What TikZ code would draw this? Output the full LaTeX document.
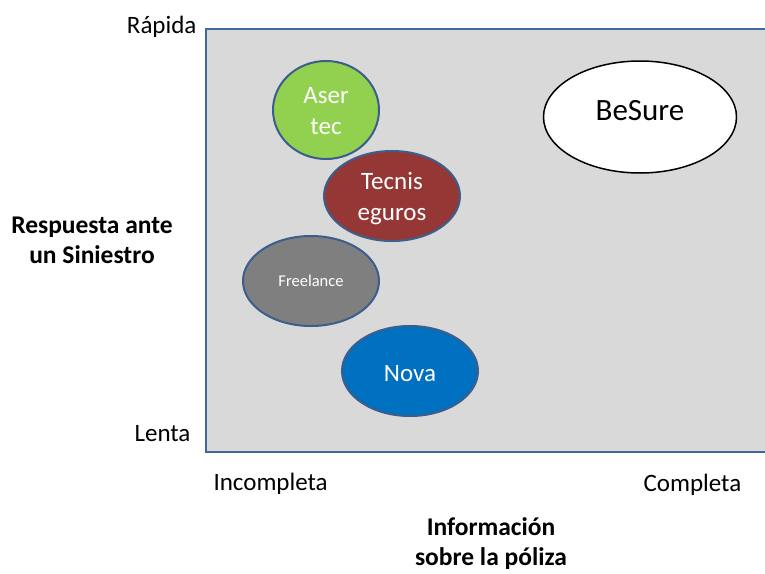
\documentclass[tikz,border=0pt]{standalone}
\usepackage{fontspec}
\setmainfont{Carlito}
\usetikzlibrary{shapes.geometric}
\definecolor{bgc}{HTML}{D9D9D9}
\definecolor{edgec}{HTML}{41689C}
\definecolor{ringc}{HTML}{3B5E8C}
\definecolor{greenc}{HTML}{92D050}
\definecolor{redc}{HTML}{953735}
\definecolor{grayc}{HTML}{7F7F7F}
\definecolor{bluec}{HTML}{0070C0}
\newcommand{\twolines}[2]{\raisebox{-3pt}[\height][\depth]{\begin{tabular}{@{}c@{}}#1\\#2\end{tabular}}}
\tikzset{
  firm/.style={ellipse, draw=ringc, line width=2pt, inner sep=0pt, text=white, align=center, font=\fontsize{25}{31}\selectfont},
  axislbl/.style={font=\fontsize{25}{31}\selectfont, text=black},
  titlelbl/.style={font=\bfseries\fontsize{25.5}{30}\selectfont, align=center}
}
\begin{document}
\begin{tikzpicture}[x=1pt,y=-1pt]
\useasboundingbox (0,0) rectangle (765,573);
\fill[white] (0,0) rectangle (765,573);
\path[fill=bgc, draw=edgec, line width=2.2pt] (766,29) -- (206,29) -- (206,452) -- (766,452);
\node[firm, fill=greenc, minimum width=106pt, minimum height=98pt] (aser) at (326,110) {\twolines{Aser}{tec}};
\node[firm, fill=redc, minimum width=136pt, minimum height=90pt] (tecnis) at (392,196) {\twolines{Tecnis}{eguros}};
\node[firm, fill=grayc, minimum width=136pt, minimum height=90pt, font=\fontsize{16.5}{20}\selectfont] (free) at (311,281) {Freelance};
\node[firm, fill=bluec, minimum width=136pt, minimum height=90pt] (nova) at (410,371) {\raisebox{-3pt}[\height][\depth]{Nova}};
\node[ellipse, draw=black, line width=1.5pt, fill=white, minimum width=193pt, minimum height=112pt, inner sep=0pt, font=\fontsize{31}{36}\selectfont] (besure) at (640,117) {\raisebox{14pt}{BeSure}};
\node[axislbl, anchor=base east] (rapida) at (200,33) {Rápida};
\node[axislbl, anchor=base east] (lenta) at (194,441) {Lenta};
\node[axislbl, anchor=base west] (incomp) at (210,490) {Incompleta};
\node[axislbl, anchor=base west] (comp) at (640,491) {Completa};
\node[titlelbl] (yt) at (92,240) {Respuesta ante\\un Siniestro};
\node[titlelbl] (xt) at (491,544) {Información\\sobre la póliza};
\end{tikzpicture}
\end{document}
